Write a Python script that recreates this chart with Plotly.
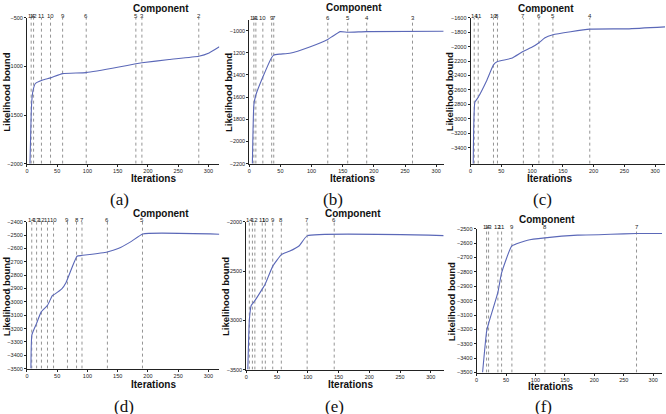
import plotly.graph_objects as go

W, H = 666, 414

# ---------------- data ----------------
a_iter = [5, 7, 8, 10, 14, 25, 39, 59, 98, 152, 180, 190, 235, 284, 301, 318]
a_bound = [-2000, -1500, -1361, -1250, -1176, -1142, -1118, -1074, -1064, -1007, -973, -963, -929, -895, -861, -797]
a_comp = [7, 11, 24, 39, 59, 98, 180, 190, 284]
a_lbl = ["14", "12", "11", "10", "9", "6", "5", "3", "2"]

b_iter = [5, 7.4, 10.6, 21.8, 36, 39.3, 49, 65, 97, 126, 134, 146, 158, 188, 312]
b_bound = [-2200, -1670, -1581, -1419, -1242, -1221, -1212, -1204, -1147, -1080, -1050, -1009, -1015, -1009, -1006]
b_comp = [7.4, 10.6, 21.8, 36, 39.3, 126, 158, 188.5, 262]
b_lbl = ["14", "11", "10", "9", "7", "6", "5", "4", "3"]

c_iter = [4.3, 7, 12.4, 25.9, 37.2, 43.7, 66.4, 85.8, 98.7, 111.2, 120.3, 133.8, 193.7, 255, 316]
c_bound = [-3620, -2769, -2701, -2476, -2252, -2207, -2162, -2063, -2013, -1946, -1879, -1834, -1757, -1753, -1726]
c_comp = [5.9, 12.4, 37.2, 43.7, 85.8, 111, 133.8, 193.7]
c_lbl = ["14", "11", "10", "8", "7", "6", "5", "4"]

d_iter = [6.6, 8.2, 15.9, 23.6, 34, 42.2, 46.6, 57.6, 64.7, 82.8, 90.5, 132.7, 150.8, 172.7, 191.4, 318]
d_bound = [-3500, -3247, -3161, -3075, -3026, -2952, -2940, -2903, -2854, -2658, -2653, -2626, -2601, -2547, -2491, -2493]
d_comp = [8, 16, 24, 34, 44, 67, 82, 91, 133, 191]
d_lbl = ["14", "13", "12", "11", "10", "9", "8", "7", "6", "5"]

e_iter = [2.5, 5, 8, 14, 25.9, 30.7, 43.1, 57.1, 70, 86.2, 99.1, 321]
e_bound = [-3500, -3000, -2850, -2800, -2683, -2633, -2450, -2333, -2300, -2243, -2143, -2140]
e_comp = [5, 10, 14, 26, 31, 43, 57, 99, 143]
e_lbl = ["14", "", "12", "11", "10", "9", "8", "7", "6"]

f_iter = [10.2, 17, 20.4, 36.2, 42.5, 60, 86.6, 116, 171.5, 228, 271.7, 316]
f_bound = [-3500, -3216, -3159, -2943, -2807, -2620, -2580, -2564, -2545, -2539, -2534, -2534]
f_comp = [17, 20.4, 36.2, 42.5, 60, 116, 271.7]
f_lbl = ["14", "13", "12", "11", "9", "8", "7"]

x_ticks = [0, 50, 100, 150, 200, 250, 300]
captions = ["(a)", "(b)", "(c)", "(d)", "(e)", "(f)"]

# ---------------- layout (pixels) ----------------
panels = [
    dict(it=a_iter, bd=a_bound, cp=a_comp, lb=a_lbl, box=(25, 218, 15, 163), xr=[0, 318], yr=[-2000, -500],
         yt=[-2000, -1500, -1000, -500], comp_y=6, iter_y=178, ylab_x=5, cap=(106, 199)),
    dict(it=b_iter, bd=b_bound, cp=b_comp, lb=b_lbl, box=(248, 443, 17, 163), xr=[0, 312], yr=[-2200, -902],
         yt=list(range(-2200, -999, 200)), comp_y=5, iter_y=178, ylab_x=227, cap=(332, 199)),
    dict(it=c_iter, bd=c_bound, cp=c_comp, lb=c_lbl, box=(470, 665, 15, 163), xr=[0, 316], yr=[-3620, -1600],
         yt=list(range(-3400, -1599, 200)), comp_y=6, iter_y=178, ylab_x=449, cap=(554, 199)),
    dict(it=d_iter, bd=d_bound, cp=d_comp, lb=d_lbl, box=(25, 218, 222, 371), xr=[0, 318], yr=[-3500, -2400],
         yt=list(range(-3500, -2399, 100)), comp_y=214, iter_y=387, ylab_x=4, cap=(110, 409)),
    dict(it=e_iter, bd=e_bound, cp=e_comp, lb=e_lbl, box=(245, 443, 222, 372), xr=[0, 321], yr=[-3500, -2000],
         yt=[-3500, -3000, -2500, -2000], comp_y=214, iter_y=387, ylab_x=224, cap=(333, 409)),
    dict(it=f_iter, bd=f_bound, cp=f_comp, lb=f_lbl, box=(476, 662, 229, 375), xr=[0, 315], yr=[-3500, -2500],
         yt=list(range(-3500, -2499, 100)), comp_y=220, iter_y=389, ylab_x=451, cap=(554, 409)),
]


def px(x):
    return x / W


def py(y):
    return 1 - y / H


fig = go.Figure()
annotations = []
layout = {}
SANS = "Liberation Sans, Arial"

for i, p in enumerate(panels):
    n = i + 1
    xa = "x" if n == 1 else f"x{n}"
    ya = "y" if n == 1 else f"y{n}"
    x0, x1, y0, y1 = p["box"]

    # dotted component lines
    vx, vy = [], []
    for c in p["cp"]:
        vx += [c, c, None]
        vy += [p["yr"][0], p["yr"][1], None]
    fig.add_trace(go.Scatter(x=vx, y=vy, mode="lines", xaxis=xa, yaxis=ya,
                             line=dict(color="#666666", width=0.7, dash="dot"),
                             hoverinfo="skip", showlegend=False))
    # likelihood curve
    fig.add_trace(go.Scatter(x=p["it"], y=p["bd"], mode="lines", xaxis=xa, yaxis=ya,
                             line=dict(color="#5b68b8", width=1.1, shape="spline", smoothing=0.4),
                             showlegend=False))

    layout["xaxis" if n == 1 else f"xaxis{n}"] = dict(
        domain=[px(x0), px(x1)], anchor=ya, range=p["xr"], tickvals=x_ticks,
        showline=True, linecolor="#222", linewidth=1, ticks="outside", ticklen=2,
        tickcolor="#222", tickfont=dict(size=5.5, family=SANS, color="#222"),
        showgrid=False, zeroline=False, fixedrange=True)
    layout["yaxis" if n == 1 else f"yaxis{n}"] = dict(
        domain=[py(y1), py(y0)], anchor=xa, range=p["yr"], tickvals=p["yt"],
        showline=True, linecolor="#222", linewidth=1, ticks="outside", ticklen=2,
        tickcolor="#222", tickfont=dict(size=5.5, family=SANS, color="#222"),
        showgrid=False, zeroline=False, fixedrange=True)

    # component labels
    for c, l in zip(p["cp"], p["lb"]):
        if l:
            annotations.append(dict(x=c, y=py(y0 - 2), xref=xa, yref="paper", text=l,
                                    showarrow=False, yanchor="middle", xanchor="center",
                                    font=dict(size=6, family=SANS, color="#222")))
    # Component title
    annotations.append(dict(x=px((x0 + x1) / 2 + 8), y=py(p["comp_y"]), xref="paper", yref="paper",
                            text="<b>Component</b>", showarrow=False, yanchor="middle",
                            font=dict(size=10, family=SANS, color="#111")))
    # Iterations
    annotations.append(dict(x=px((x0 + x1) / 2 + 6), y=py(p["iter_y"]), xref="paper", yref="paper",
                            text="<b>Iterations</b>", showarrow=False, yanchor="middle",
                            font=dict(size=10, family=SANS, color="#111")))
    # Likelihood bound
    annotations.append(dict(x=px(p["ylab_x"]), y=py((y0 + y1) / 2 + 1), xref="paper", yref="paper",
                            text="<b>Likelihood bound</b>", showarrow=False, textangle=-90,
                            xanchor="center", yanchor="middle",
                            font=dict(size=9.5, family=SANS, color="#111")))
    # caption
    annotations.append(dict(x=px(p["cap"][0]), y=py(p["cap"][1]), xref="paper", yref="paper",
                            text=captions[i], showarrow=False, yanchor="middle",
                            font=dict(size=17, family="Liberation Serif", color="#111")))

fig.update_layout(width=W, height=H, margin=dict(l=0, r=0, t=0, b=0),
                  paper_bgcolor="white", plot_bgcolor="white",
                  annotations=annotations, **layout)

fig.write_html("out.html")
